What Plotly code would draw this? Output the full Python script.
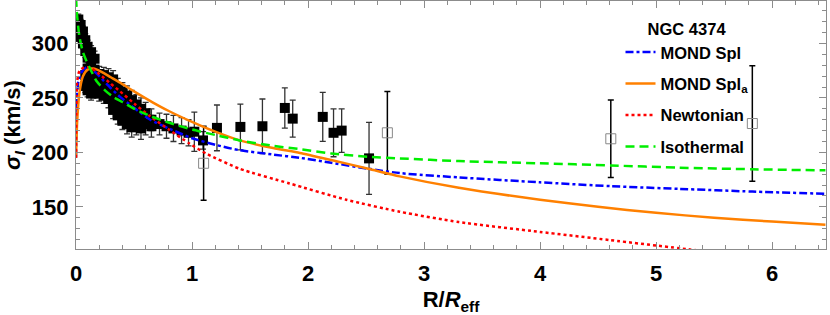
import plotly.graph_objects as go

# ---------------- data ----------------
# inner (dense) filled-square measurements
inner_x = [0.02, 0.02, 0.04, 0.04, 0.06, 0.06,
           0.08, 0.08, 0.08, 0.08,
           0.10, 0.10, 0.10, 0.10, 0.10,
           0.13, 0.13, 0.13, 0.13, 0.13,
           0.16, 0.16, 0.16, 0.16,
           0.20, 0.20, 0.20,
           0.24, 0.24, 0.24,
           0.28, 0.28, 0.28,
           0.32, 0.32, 0.32, 0.32,
           0.36, 0.36, 0.36, 0.36,
           0.40, 0.40, 0.40, 0.40,
           0.44, 0.44, 0.44, 0.44,
           0.48, 0.48, 0.48, 0.48,
           0.52, 0.52, 0.52,
           0.56, 0.56, 0.56,
           0.60, 0.60,
           0.65, 0.65,
           0.72, 0.78, 0.84, 0.91, 0.97]
inner_y = [322, 313, 317, 306, 311, 300,
           303, 293, 271, 261,
           297, 287, 277, 267, 257,
           292, 282, 272, 262, 254,
           286, 276, 266, 257,
           272, 263, 254,
           271, 261, 252,
           269, 258, 249,
           267, 256, 246, 239,
           260, 250, 241, 234,
           256, 246, 236, 229,
           252, 242, 232, 226,
           248, 238, 229, 223,
           244, 234, 225,
           240, 230, 222,
           236, 226,
           230, 224,
           226, 224, 222, 220, 218]
inner_err = [5, 5, 5, 5, 5, 5,
             6, 6, 6, 6,
             6, 6, 6, 6, 6,
             6, 6, 6, 6, 6,
             7, 7, 7, 7,
             7, 7, 7,
             7, 7, 7,
             8, 8, 8,
             8, 8, 8, 8,
             8, 8, 8, 8,
             8, 8, 8, 8,
             9, 9, 9, 9,
             9, 9, 9, 9,
             9, 9, 9,
             10, 10, 10,
             10, 10,
             10, 10,
             10, 11, 12, 12, 12]

# outer filled-square measurements
outer_x = [1.02, 1.095, 1.215, 1.417, 1.607, 1.80, 1.868, 2.127, 2.22, 2.29, 2.526]
outer_y = [219, 211, 222.5, 223.4, 224, 240.8, 231, 232.6, 218, 220, 194.5]
outer_err = [18, 8, 21, 21, 25, 18.5, 17, 22.5, 22, 20, 33]

# open-square measurements
open_x = [1.10, 2.684, 4.61, 5.83]
open_y = [190, 218, 212.5, 226.5]
open_err = [34, 38, 35.5, 53]

# model curves
iso_x = [0, 0.01, 0.03, 0.06, 0.09, 0.13, 0.18, 0.25, 0.32, 0.42, 0.52, 0.65, 0.81, 1.0, 1.2,
         1.41, 1.7, 1.93, 2.2, 2.52, 2.79, 3.3, 4.0, 4.61, 5.2, 5.83, 6.46]
iso_y = [342, 325, 306, 292, 284, 275, 265, 257, 251, 245, 239, 233, 227, 221, 216,
         211, 206, 203, 199, 196, 194.5, 192, 190, 188, 186, 184.5, 183.5]

spl_x = [0, 0.005, 0.02, 0.05, 0.09, 0.13, 0.2, 0.3, 0.38, 0.5, 0.64, 0.8, 1.0, 1.2, 1.41,
         1.7, 1.93, 2.2, 2.52, 2.79, 3.3, 4.0, 4.61, 5.2, 5.83, 6.46]
spl_y = [195, 240, 265, 274, 278, 277, 270, 259, 251, 241, 230, 222, 213, 207, 202,
         198, 195, 190.5, 185, 181, 177, 172.5, 169, 166.5, 164, 162]

spla_x = [0, 0.01, 0.03, 0.06, 0.1, 0.15, 0.22, 0.3, 0.38, 0.5, 0.66, 0.8, 1.0, 1.2, 1.41,
          1.7, 1.93, 2.2, 2.52, 2.79, 3.3, 4.0, 4.5, 5.0, 5.5, 6.0, 6.46]
spla_y = [195, 228, 255, 270, 276, 277, 274, 269, 264, 256, 246, 238, 228, 219, 211,
          204, 199.5, 193, 185, 178, 167.5, 156.5, 150, 144.5, 140, 136.5, 133.5]

newt_x = [0, 0.003, 0.01, 0.03, 0.07, 0.12, 0.2, 0.3, 0.38, 0.5, 0.64, 0.8, 0.98, 1.12, 1.41,
          1.84, 2.33, 2.79, 3.3, 4.0, 4.6, 5.28, 5.4]
newt_y = [195, 240, 265, 275, 278, 278, 272, 263, 256, 245, 233, 221, 208, 199, 185,
          171.5, 156.5, 145.5, 136, 127, 119.5, 111, 109.5]

x_ticks = [0, 1, 2, 3, 4, 5, 6]
y_ticks = [150, 200, 250, 300]

# ---------------- figure ----------------
FONT = "Liberation Sans, Arial, sans-serif"
fig = go.Figure()

fig.add_trace(go.Scatter(
    x=inner_x + outer_x, y=inner_y + outer_y, mode="markers",
    marker=dict(symbol="square", size=10, color="black"),
    error_y=dict(type="data", array=inner_err + outer_err, color="#333333", thickness=1.3, width=3),
    showlegend=False, hoverinfo="skip"))

fig.add_trace(go.Scatter(
    x=open_x, y=open_y, mode="markers",
    marker=dict(symbol="square-open", size=10, color="#888888", line=dict(width=1)),
    error_y=dict(type="data", array=open_err, color="black", thickness=1.5, width=3),
    showlegend=False, hoverinfo="skip"))

curves = [
    ("MOND Spl", spl_x, spl_y, "#0000FF", "8px,3px,3px,3px", 1),
    ("MOND Spl<sub>a</sub>", spla_x, spla_y, "#FF8000", "solid", 2),
    ("Newtonian", newt_x, newt_y, "#FF0000", "3px,3px", 3),
    ("Isothermal", iso_x, iso_y, "#00EE00", "9px,5px", 4),
]
for name, cx, cy, col, dash, rank in curves:
    fig.add_trace(go.Scatter(
        x=cx, y=cy, mode="lines", name=name, legendgroup=name, legendrank=rank,
        line=dict(color=col, width=2.5, dash=dash, shape="spline", smoothing=0.6),
        hoverinfo="skip"))

axis_common = dict(
    showline=True, linecolor="#8c8c8c", linewidth=1.2, mirror="allticks",
    ticks="inside", ticklen=7, tickwidth=1, tickcolor="#8c8c8c",
    showgrid=False, zeroline=False, automargin=False,
    tickfont=dict(family=FONT, size=22, color="black", weight="bold"),
)

fig.update_xaxes(
    range=[0, 6.465], tickvals=x_ticks,
    minor=dict(dtick=0.2, ticks="inside", ticklen=4, tickcolor="#8c8c8c", showgrid=False),
    title=dict(text="R/<i>R</i><sub>eff</sub>", standoff=14,
               font=dict(family=FONT, size=22, color="black", weight="bold")),
    ticklabelstandoff=4,
    **axis_common)
fig.update_yaxes(
    range=[111.3, 339], tickvals=y_ticks,
    minor=dict(dtick=10, ticks="inside", ticklen=4, tickcolor="#8c8c8c", showgrid=False),
    title=dict(text="<i>σ</i><sub><i>I</i></sub> (km/s)", standoff=6,
               font=dict(family=FONT, size=22, color="black", weight="bold")),
    ticklabelstandoff=2,
    **axis_common)

fig.update_layout(
    width=830, height=315,
    margin=dict(l=76, r=4, t=1, b=66, autoexpand=False),
    paper_bgcolor="white", plot_bgcolor="white",
    legend=dict(
        x=0.726, y=0.95, xanchor="left", yanchor="top",
        bgcolor="rgba(0,0,0,0)", borderwidth=0,
        font=dict(family=FONT, size=16.5, color="black", weight="bold"),
        title=dict(text="NGC 4374", side="top center",
                   font=dict(family=FONT, size=16.5, color="black", weight="bold")),
        tracegroupgap=7, itemwidth=30,
    ),
    showlegend=True,
)

fig.write_html("out.html", config={"displayModeBar": False},
               post_script="document.body.style.margin='0';")
